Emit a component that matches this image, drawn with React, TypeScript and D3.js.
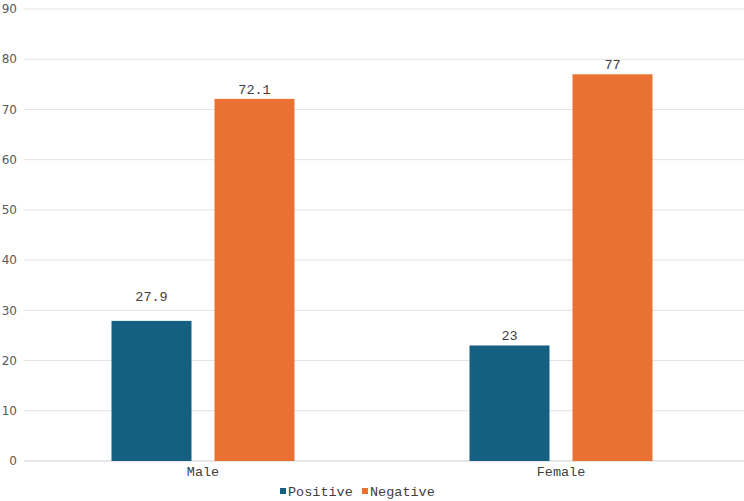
import * as d3 from "d3";
import { useEffect, useRef } from "react";

const categories = ["Male", "Female"];
const seriesNames = ["Positive", "Negative"];
const positive = [27.9, 23];
const negative = [72.1, 77];
const yTicks = [0, 10, 20, 30, 40, 50, 60, 70, 80, 90];
const colors = ["#156082", "#e97132"];

const App = () => {
  const ref = useRef<SVGSVGElement>(null);

  useEffect(() => {
    const W = 744, H = 501;
    const margin = { top: 9, right: 4, bottom: 40, left: 24 };
    const width = W - margin.left - margin.right;
    const height = H - margin.top - margin.bottom;
    const groupWidth = 183;

    const svg = d3.select(ref.current);
    svg.selectAll("*").remove();
    const g = svg.append("g").attr("transform", `translate(${margin.left},${margin.top})`);

    const x = d3.scaleBand().domain(categories).range([0, width]);
    const y = d3.scaleLinear().domain([0, 90]).range([height, 0]);
    const xs = d3.scaleBand().domain(seriesNames).range([0, groupWidth]).paddingInner(23 / 103);

    // gridlines
    g.append("g")
      .selectAll("line")
      .data(yTicks)
      .join("line")
      .attr("x1", 0)
      .attr("x2", width + margin.right)
      .attr("y1", (d) => y(d))
      .attr("y2", (d) => y(d))
      .attr("stroke", (d) => (d === 0 ? "#d0d0d0" : "#e3e3e3"))
      .attr("stroke-width", 1);

    // y tick labels
    g.append("g")
      .selectAll("text")
      .data(yTicks)
      .join("text")
      .attr("x", -7)
      .attr("y", (d) => y(d))
      .attr("dy", "0.35em")
      .attr("text-anchor", "end")
      .attr("font-family", "DejaVu Sans, sans-serif")
      .attr("font-size", 12)
      .attr("fill", "#595959")
      .text((d) => d);

    const rows = categories.map((c, i) => ({ cat: c, values: [positive[i], negative[i]] }));

    const groups = g.append("g")
      .selectAll("g")
      .data(rows)
      .join("g")
      .attr("transform", (d) => `translate(${x(d.cat)! + x.bandwidth() / 2 - groupWidth / 2},0)`);

    groups.selectAll("rect")
      .data((d) => d.values.map((v, j) => ({ v, s: seriesNames[j], j })))
      .join("rect")
      .attr("x", (d) => xs(d.s)!)
      .attr("width", xs.bandwidth())
      .attr("y", (d) => y(d.v))
      .attr("height", (d) => height - y(d.v))
      .attr("fill", (d) => colors[d.j]);

    // value labels; the short male bar's label sits a little higher
    groups.selectAll("text")
      .data((d, i) => d.values.map((v, j) => ({ v, s: seriesNames[j], lift: i === 0 && j === 0 ? 15 : 0 })))
      .join("text")
      .attr("x", (d) => xs(d.s)! + xs.bandwidth() / 2)
      .attr("y", (d) => y(d.v) - 5 - d.lift)
      .attr("text-anchor", "middle")
      .attr("font-family", "Liberation Mono, monospace")
      .attr("font-size", 13.5)
      .attr("fill", "#404040")
      .text((d) => d.v);

    // category labels
    g.append("g")
      .selectAll("text")
      .data(categories)
      .join("text")
      .attr("x", (d) => x(d)! + x.bandwidth() / 2)
      .attr("y", height + 15)
      .attr("text-anchor", "middle")
      .attr("font-family", "Liberation Mono, monospace")
      .attr("font-size", 13.5)
      .attr("fill", "#404040")
      .text((d) => d);

    // legend
    const legend = svg.append("g").attr("transform", `translate(280,491)`);
    const items = legend.selectAll("g")
      .data(seriesNames)
      .join("g")
      .attr("transform", (d, i) => `translate(${i * 82},0)`);
    items.append("rect")
      .attr("x", 0)
      .attr("y", -3)
      .attr("width", 6)
      .attr("height", 6)
      .attr("fill", (d, i) => colors[i]);
    items.append("text")
      .attr("x", 8)
      .attr("dy", "0.35em")
      .attr("font-family", "Liberation Mono, monospace")
      .attr("font-size", 13.5)
      .attr("fill", "#404040")
      .text((d) => d);
  }, []);

  return <svg ref={ref} width={744} height={501} style={{ position: "absolute", left: 0, top: 0 }} />;
};

export default App;
